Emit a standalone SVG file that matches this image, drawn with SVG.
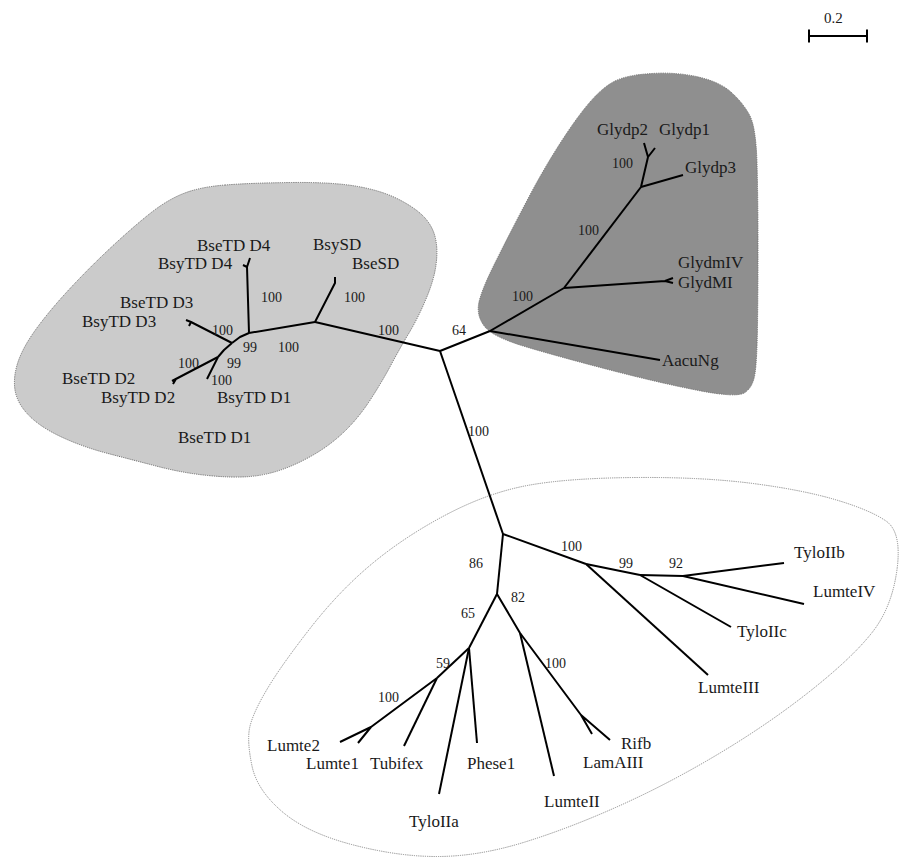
<svg xmlns="http://www.w3.org/2000/svg" width="901" height="858" viewBox="0 0 901 858">
<style>
.leaf{font-family:"Liberation Serif","Times New Roman",serif;font-size:17px;fill:#1a1a1a}
.bs{font-family:"Liberation Serif","Times New Roman",serif;font-size:14px;fill:#1a1a1a}
.br{fill:none;stroke:#000;stroke-width:2;stroke-linejoin:round;stroke-linecap:butt}
.blob{stroke:#6e6e6e;stroke-width:1;stroke-dasharray:1.2 1}
</style>
<rect width="901" height="858" fill="#fff"/>
<g id="clusters">
<path id="cluster-light" class="blob" fill="#cbcbcb" d="M225,185 Q250,183 291.5,182.5 Q333,182 358,186.5 Q383,191 400,200 Q417,209 425,218 Q433,227 435.5,238.5 Q438,250 436,265 Q434,280 426,299 Q418,318 409,333 Q400,348 391.5,364 Q383,380 371.5,398 Q360,416 346.5,429.5 Q333,443 316.5,453 Q300,463 283.5,469 Q267,475 250,476.5 Q233,478 208,475.5 Q183,473 158,466.5 Q133,460 108,453.5 Q83,447 61.5,437 Q40,427 28.5,415 Q17,403 15,390 Q13,377 18,362 Q23,347 36.5,328.5 Q50,310 70,288.5 Q90,267 111.5,247 Q133,227 150,213.5 Q167,200 183.5,193.5 Q200,187 225,185 Z"/>
<path id="cluster-dark" class="blob" fill="#8f8f8f" d="M615,81 Q627,75 652,73.5 Q677,72 698.5,77 Q720,82 731.5,92.5 Q743,103 749.5,115 Q756,127 757,163.5 Q758,200 758,245 Q758,290 757.5,325 Q757,360 755,373.5 Q753,387 745,392.5 Q737,398 698.5,390.5 Q660,383 610,370 Q560,357 526.5,347 Q493,337 485,327 Q477,317 478.5,305 Q480,293 495,263 Q510,233 526.5,201.5 Q543,170 560,143.5 Q577,117 590,102 Q603,87 615,81 Z"/>
<path id="cluster-outline" fill="none" stroke="#8a8a8a" stroke-width="1" stroke-dasharray="1.2 1" d="M448.5,513.5 Q490,492 530,485 Q570,478 636.5,477.5 Q703,477 753,483.5 Q803,490 836.5,500 Q870,510 886,521 Q902,532 897,569.5 Q892,607 872.5,632 Q853,657 811.5,690 Q770,723 720,753 Q670,783 620,805.5 Q570,828 525,842 Q480,856 440,856.5 Q400,857 353.5,845 Q307,833 282,811.5 Q257,790 252,766 Q247,742 249.5,728.5 Q252,715 266,691 Q280,667 310,628.5 Q340,590 373.5,562.5 Q407,535 448.5,513.5 Z"/>
</g>
<g id="connectors" class="br">
<path d="M440,351 L315,322"/>
<path d="M315,322 L335,283 L335,277"/>
<path d="M315,322 L249,333"/>
<path d="M249,333 L247,267 L250,258 M247,267 L243,265"/>
<path d="M249,333 L240,337 L232,343"/>
<path d="M232,343 L191,322 L186,320 M191,322 L189,326"/>
<path d="M232,343 L224,350 L218,357"/>
<path d="M218,357 L172,381 M176,379 L173,384"/>
<path d="M218,357 L207,379"/>
<path d="M440,351 L490,331"/>
<path d="M490,331 L660,360"/>
<path d="M490,331 L564,288"/>
<path d="M564,288 L665,281 L673,278 M665,281 L673,283"/>
<path d="M564,288 L641,187"/>
<path d="M641,187 L683,175"/>
<path d="M641,187 L648,157 L644,143 M648,157 L655,148"/>
<path d="M440,351 L503,534"/>
<path d="M503,534 L586,564"/>
<path d="M586,564 L640,575"/>
<path d="M640,575 L683,576"/>
<path d="M683,576 L784,563"/>
<path d="M683,576 L804,604"/>
<path d="M640,575 L731,627"/>
<path d="M586,564 L708,675"/>
<path d="M503,534 L497,594"/>
<path d="M497,594 L469,648"/>
<path d="M497,594 L520,633 L581,715 L610,740 M581,715 L592,734"/>
<path d="M520,633 L554,776"/>
<path d="M469,648 L439,794"/>
<path d="M469,648 L477,743"/>
<path d="M469,648 L437,678"/>
<path d="M437,678 L404,746"/>
<path d="M437,678 L371,727 L340,742 M371,727 L358,743"/>
</g>
<g id="scale">
<path d="M809,36 H867 M809,29.5 V42.5 M867,29.5 V42.5" fill="none" stroke="#000" stroke-width="2"/>
<text class="bs" x="824" y="23" style="font-size:15px">0.2</text>
</g>
<g id="bootstrap">
<text class="bs" x="261" y="302">100</text>
<text class="bs" x="344" y="302">100</text>
<text class="bs" x="378" y="335">100</text>
<text class="bs" x="452" y="335">64</text>
<text class="bs" x="212" y="335">100</text>
<text class="bs" x="243" y="352">99</text>
<text class="bs" x="278" y="352">100</text>
<text class="bs" x="178" y="368">100</text>
<text class="bs" x="227" y="368">99</text>
<text class="bs" x="211" y="385">100</text>
<text class="bs" x="612" y="168">100</text>
<text class="bs" x="578" y="235">100</text>
<text class="bs" x="512" y="301">100</text>
<text class="bs" x="468" y="436">100</text>
<text class="bs" x="561" y="551">100</text>
<text class="bs" x="619" y="568">99</text>
<text class="bs" x="669" y="568">92</text>
<text class="bs" x="469" y="568">86</text>
<text class="bs" x="511" y="602">82</text>
<text class="bs" x="461" y="618">65</text>
<text class="bs" x="436" y="668">59</text>
<text class="bs" x="545" y="668">100</text>
<text class="bs" x="378" y="702">100</text>
</g>
<g id="n-BseTD-D4"><text class="leaf" x="197" y="251">BseTD D4</text></g>
<g id="n-BsyTD-D4"><text class="leaf" x="158" y="269">BsyTD D4</text></g>
<g id="n-BsySD"><text class="leaf" x="313" y="250">BsySD</text></g>
<g id="n-BseSD"><text class="leaf" x="352" y="269">BseSD</text></g>
<g id="n-BseTD-D3"><text class="leaf" x="120" y="308">BseTD D3</text></g>
<g id="n-BsyTD-D3"><text class="leaf" x="82" y="327">BsyTD D3</text></g>
<g id="n-BseTD-D2"><text class="leaf" x="62" y="384">BseTD D2</text></g>
<g id="n-BsyTD-D2"><text class="leaf" x="101" y="403">BsyTD D2</text></g>
<g id="n-BsyTD-D1"><text class="leaf" x="217" y="403">BsyTD D1</text></g>
<g id="n-BseTD-D1"><text class="leaf" x="178" y="443">BseTD D1</text></g>
<g id="n-Glydp2"><text class="leaf" x="597" y="135">Glydp2</text></g>
<g id="n-Glydp1"><text class="leaf" x="659" y="135">Glydp1</text></g>
<g id="n-Glydp3"><text class="leaf" x="685" y="173">Glydp3</text></g>
<g id="n-GlydmIV"><text class="leaf" x="678" y="268">GlydmIV</text></g>
<g id="n-GlydMI"><text class="leaf" x="678" y="288">GlydMI</text></g>
<g id="n-AacuNg"><text class="leaf" x="662" y="366">AacuNg</text></g>
<g id="n-TyloIIb"><text class="leaf" x="794" y="558">TyloIIb</text></g>
<g id="n-LumteIV"><text class="leaf" x="813" y="597">LumteIV</text></g>
<g id="n-TyloIIc"><text class="leaf" x="737" y="637">TyloIIc</text></g>
<g id="n-LumteIII"><text class="leaf" x="698" y="693">LumteIII</text></g>
<g id="n-Rifb"><text class="leaf" x="621" y="749">Rifb</text></g>
<g id="n-LamAIII"><text class="leaf" x="583" y="768">LamAIII</text></g>
<g id="n-LumteII"><text class="leaf" x="544" y="807">LumteII</text></g>
<g id="n-Phese1"><text class="leaf" x="467" y="769">Phese1</text></g>
<g id="n-TyloIIa"><text class="leaf" x="409" y="827">TyloIIa</text></g>
<g id="n-Tubifex"><text class="leaf" x="370" y="769">Tubifex</text></g>
<g id="n-Lumte1"><text class="leaf" x="306" y="769">Lumte1</text></g>
<g id="n-Lumte2"><text class="leaf" x="267" y="751">Lumte2</text></g>
</svg>
